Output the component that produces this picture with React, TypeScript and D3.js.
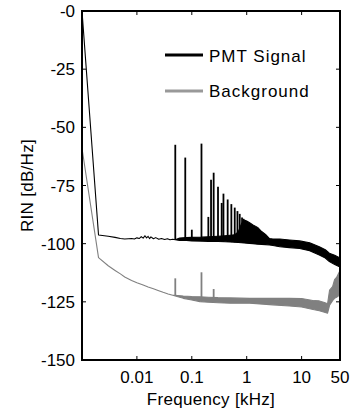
import React from 'react';
import * as d3 from 'd3';

const W = 358;
const H = 412;

// PMT signal envelope (kHz, dB/Hz lower, dB/Hz upper)
const pmtFreq = [0.001, 0.002, 0.003, 0.004, 0.005, 0.006, 0.007, 0.008, 0.009, 0.01, 0.011, 0.012, 0.013, 0.014, 0.015, 0.016, 0.017, 0.018, 0.02, 0.022, 0.025, 0.028, 0.032, 0.036, 0.04, 0.045, 0.05,
  0.06, 0.08, 0.1, 0.15, 0.2, 0.3, 0.4, 0.5, 0.6, 0.7, 0.8, 0.9, 1.0, 1.13, 1.3, 1.58, 1.87, 2.2, 2.6, 3, 4, 6, 9.2, 14, 21, 27, 32, 40, 50];
const pmtLow = [0, -96.3, -96.8, -97.3, -97.8, -98.0, -97.9, -97.8, -98.0, -97.5, -97.8, -97.0, -97.6, -96.6, -97.5, -96.9, -97.8, -97.1, -97.9, -97.4, -98.1, -97.8, -98.2, -97.9, -98.3, -98.1, -98.3,
  -98.6, -98.6, -98.8, -98.9, -99.0, -99.1, -99.2, -99.3, -99.4, -99.5, -99.6, -99.7, -99.8, -99.9, -100.0, -100.2, -100.3, -100.4, -100.6, -100.8, -101.3, -101.7, -102.1, -103.0, -104.9, -106.2, -107.7, -109.0, -110.0];
const pmtHigh = [0, -96.3, -96.8, -97.3, -97.8, -98.0, -97.9, -97.8, -98.0, -97.5, -97.8, -97.0, -97.6, -96.6, -97.5, -96.9, -97.8, -97.1, -97.9, -97.4, -98.1, -97.8, -98.2, -97.9, -98.3, -98.1, -98.3,
  -97.6, -97.4, -97.3, -97.2, -97.0, -96.8, -96.6, -96.4, -96.2, -95.0, -91.5, -89.8, -90.3, -91.0, -92.0, -93.0, -94.8, -96.0, -97.8, -98.0, -98.0, -98.4, -98.8, -99.6, -101.3, -102.6, -104.1, -105.0, -106.2];

// PMT signal spectral peaks
const pmtPeakFreq = [0.05, 0.076, 0.1, 0.15, 0.2, 0.224, 0.25, 0.3, 0.35, 0.377, 0.45, 0.525, 0.605, 0.678, 0.746, 0.822, 0.87];
const pmtPeakDb = [-57.5, -63, -94, -57, -88.5, -72.5, -69.5, -75.5, -82.5, -78.5, -81, -83, -84.5, -86, -87.2, -88.8, -89.3];

// Background envelope
const bgFreq = [0.001, 0.002, 0.003, 0.004, 0.005, 0.006, 0.008, 0.01, 0.013, 0.016, 0.02, 0.025, 0.03, 0.037, 0.045, 0.05, 0.07, 0.1, 0.14, 0.2, 0.3, 0.5, 1.13, 2, 3, 6, 10, 17, 21, 26, 29.7, 32.3, 36.6, 39.8, 43.3, 50];
const bgLow = [-59, -106, -109.5, -111.5, -113, -114.3, -115.8, -116.8, -117.8, -118.6, -119.4, -120.2, -120.9, -121.6, -122.2, -122.5, -123.5, -124.2, -124.9, -125.2, -125.4, -125.6, -125.6, -126.0, -126.3, -126.8, -127.2, -128.4, -128.8, -129.5, -129.9, -126.5, -124.5, -123.5, -123.0, -122.0];
const bgHigh = [-59, -106, -109.5, -111.5, -113, -114.3, -115.8, -116.8, -117.8, -118.6, -119.4, -120.2, -120.9, -121.6, -122.2, -122.2, -122.5, -122.7, -122.8, -123.0, -123.2, -123.3, -123.5, -123.5, -123.5, -123.5, -123.6, -124.5, -124.6, -125.3, -125.8, -120.0, -118.5, -115.5, -114.5, -111.5];

const bgPeakFreq = [0.05, 0.15, 0.25];
const bgPeakDb = [-114.9, -112.3, -119.5];

const xTicks = [0.01, 0.1, 1, 10, 50];
const xTickLabels = ['0.01', '0.1', '1', '10', '50'];
const yTicks = [0, -25, -50, -75, -100, -125, -150];
const yTickLabels = ['-0', '-25', '-50', '-75', '-100', '-125', '-150'];

const seriesNames = ['PMT Signal', 'Background'];

const FONT = '"Liberation Sans", Arial, sans-serif';

export default function App() {
  const left = 82, right = 340, top = 11, bottom = 360;
  const x = d3.scaleLog().domain([0.001, 50]).range([left, right]);
  const y = d3.scaleLinear().domain([-150, 0]).range([bottom, top]);

  const bandPath = (f: number[], lo: number[], hi: number[]) =>
    d3.area<number>().x(i => x(f[i])).y0(i => y(lo[i])).y1(i => y(hi[i]))(d3.range(f.length)) || '';

  const pmtBase = d3.scaleLog().domain(pmtFreq).range(pmtLow);
  const bgBase = d3.scaleLog().domain(bgFreq).range(bgLow);

  const black = '#000';
  const gray = '#808080';

  return (
    <svg width={W} height={H} style={{ position: 'absolute', left: 0, top: 0, background: '#fff' }} fontFamily={FONT}>
      <rect x={0} y={0} width={W} height={H} fill="#fff" />
      {/* Background series */}
      <path d={bandPath(bgFreq, bgLow, bgHigh)} fill={gray} stroke={gray} strokeWidth={1.1} strokeLinejoin="round" />
      {bgPeakFreq.map((f, i) => (
        <line key={'bp' + i} x1={x(f)} x2={x(f)} y1={y(bgBase(f))} y2={y(bgPeakDb[i])} stroke={gray} strokeWidth={1.8} />
      ))}
      {/* PMT series */}
      <path d={bandPath(pmtFreq, pmtLow, pmtHigh)} fill={black} stroke={black} strokeWidth={1.1} strokeLinejoin="round" />
      {pmtPeakFreq.map((f, i) => (
        <line key={'pp' + i} x1={x(f)} x2={x(f)} y1={y(pmtBase(f))} y2={y(pmtPeakDb[i])} stroke={black} strokeWidth={1.8} />
      ))}

      {/* Axes box */}
      <rect x={left} y={top} width={right - left} height={bottom - top} fill="none" stroke="#000" strokeWidth={2} />
      {xTicks.map((t, i) => (
        <g key={'xt' + i}>
          <line x1={x(t)} x2={x(t)} y1={bottom} y2={bottom - 4} stroke="#000" strokeWidth={1} />
          <line x1={x(t)} x2={x(t)} y1={top} y2={top + 4} stroke="#000" strokeWidth={1} />
          <text x={x(t)} y={383} textAnchor="middle" fontSize={17}>{xTickLabels[i]}</text>
        </g>
      ))}
      {yTicks.map((t, i) => (
        <g key={'yt' + i}>
          <line x1={left} x2={left + 4} y1={y(t)} y2={y(t)} stroke="#000" strokeWidth={1} />
          <line x1={right} x2={right - 4} y1={y(t)} y2={y(t)} stroke="#000" strokeWidth={1} />
          <text x={75} y={y(t) + 6} textAnchor="end" fontSize={17}>{yTickLabels[i]}</text>
        </g>
      ))}
      <text x={211} y={405} textAnchor="middle" fontSize={17} letterSpacing={0.3}>Frequency [kHz]</text>
      <text transform={`translate(33,${(top + bottom) / 2}) rotate(-90)`} textAnchor="middle" fontSize={17} letterSpacing={0.3}>RIN [dB/Hz]</text>

      {/* Legend */}
      <line x1={165} x2={203} y1={55} y2={55} stroke={black} strokeWidth={3} />
      <text x={209} y={62} fontSize={17} letterSpacing={1}>{seriesNames[0]}</text>
      <line x1={165} x2={203} y1={91} y2={91} stroke="#999" strokeWidth={3} />
      <text x={209} y={97} fontSize={17} letterSpacing={1}>{seriesNames[1]}</text>
    </svg>
  );
}
